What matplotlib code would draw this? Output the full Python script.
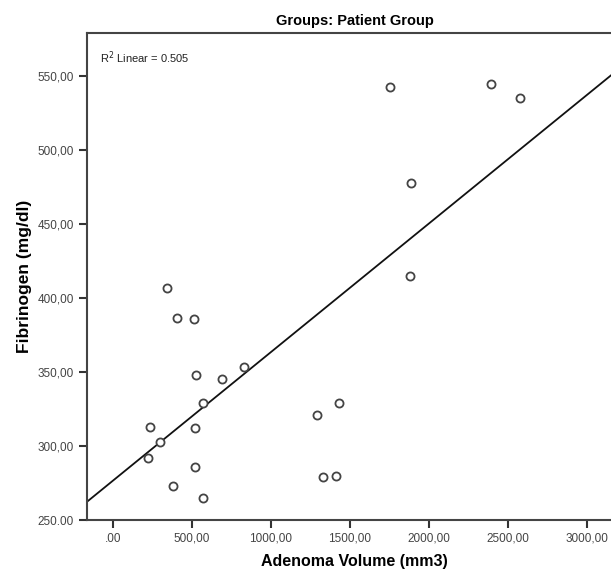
import matplotlib
matplotlib.use("Agg")
import matplotlib.pyplot as plt
from matplotlib import font_manager
import numpy as np

plt.rcParams['font.family'] = ['Liberation Sans', 'DejaVu Sans']

# adenoma volume (mm3) vs fibrinogen (mg/dl), patient group
volume = [340, 407, 511, 523, 692, 829, 568, 232, 519, 295, 221, 519, 382, 568,
          1291, 1430, 1329, 1413, 1753, 2390, 2576, 1886, 1880]
fibrinogen = [406.6, 386.3, 386.0, 347.8, 345.0, 353.6, 329.0, 313.0, 312.0, 303.0,
              292.0, 286.0, 273.0, 265.0, 321.0, 329.0, 279.0, 280.0, 542.4, 544.6,
              535.0, 478.0, 414.7]

xticks = [0, 500, 1000, 1500, 2000, 2500, 3000]
xticklabels = [".00", "500,00", "1000,00", "1500,00", "2000,00", "2500,00", "3000,00"]
yticks = [250, 300, 350, 400, 450, 500, 550]
yticklabels = ["250.00", "300,00", "350,00", "400,00", "450,00", "500,00", "550,00"]

x = np.array(volume)
y = np.array(fibrinogen)
slope, icpt = np.polyfit(x, y, 1)

# narrow font for the title if there is one
names = {f.name for f in font_manager.fontManager.ttflist}
if 'Liberation Sans Narrow' in names:
    title_kw = dict(family=['Liberation Sans Narrow', 'DejaVu Sans'], fontsize=11.5)
else:
    title_kw = dict(fontsize=10.5, fontstretch='condensed')

fig = plt.figure(figsize=(6.11, 5.74), dpi=100)
ax = fig.add_axes([0.1416, 0.094, 0.878, 0.8485])

xlo, xhi = -168, 3228
ax.plot([xlo, xhi], [icpt + slope * xlo, icpt + slope * xhi], color='#111111', lw=1.3, zorder=2)
ax.scatter(x, y, s=34, facecolors='white', edgecolors='#444444', linewidths=1.3, zorder=3)

ax.set_xlim(xlo, xhi)
ax.set_ylim(250, 579)
ax.set_xticks(xticks)
ax.set_xticklabels(xticklabels)
ax.set_yticks(yticks)
ax.set_yticklabels(yticklabels)
ax.tick_params(direction='out', length=6, width=1.5, color='#333333',
               labelsize=8.5, labelcolor='#444444', pad=3)

for s in ['left', 'bottom', 'top']:
    ax.spines[s].set_color('#444444')
    ax.spines[s].set_linewidth(1.5)
ax.spines['right'].set_visible(False)

ax.set_xlabel("Adenoma Volume (mm3)", fontsize=11.5, fontweight='bold', labelpad=7)
ax.set_ylabel("Fibrinogen (mg/dl)", fontsize=12.5, fontweight='bold', labelpad=4)
ax.set_title("Groups: Patient Group", fontweight='bold', pad=6, **title_kw)

ax.text(0.025, 0.95, "R$^2$ Linear = %.3f" % 0.505, transform=ax.transAxes,
        fontsize=8, color='#222222', va='center', ha='left')

fig.savefig("out.png", dpi=100)
